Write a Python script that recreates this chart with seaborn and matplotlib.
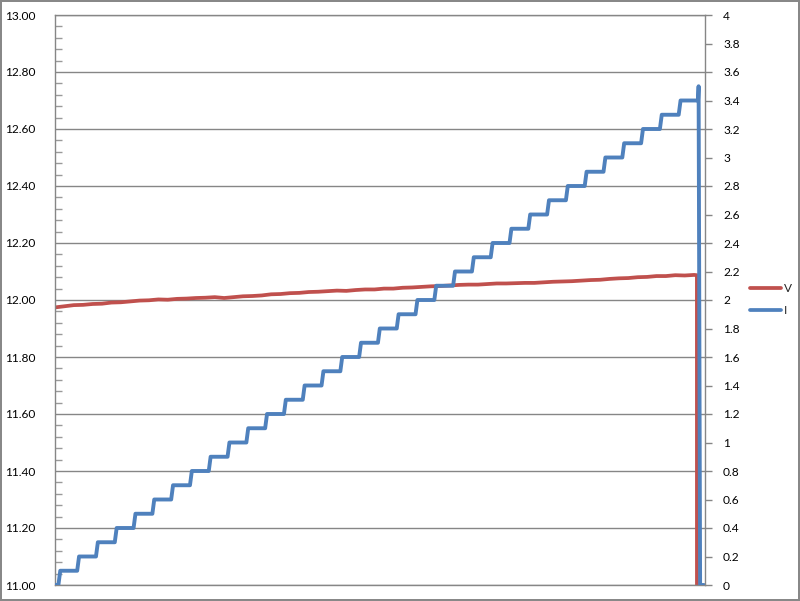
import numpy as np
import pandas as pd
import matplotlib
matplotlib.use("Agg")
import matplotlib.pyplot as plt
import seaborn as sns
from matplotlib.ticker import MultipleLocator, FuncFormatter
from matplotlib.lines import Line2D

# ---------------- data ----------------
v_time = [0, 5, 10, 15, 20, 25, 30, 35, 40, 45, 50, 55, 60, 65, 70, 75, 80, 85,
          90, 95, 100, 105, 110, 115, 120, 125, 130, 135, 140, 145, 150, 155,
          160, 165, 170, 175, 180, 185, 190, 195, 200, 205, 210, 215, 220, 225,
          230, 235, 240, 245, 250, 255, 260, 265, 270, 275, 280, 285, 290, 295,
          300, 305, 310, 315, 320, 325, 330, 335, 340, 341.5, 341.8]
v_values = [11.974, 11.978, 11.982, 11.983, 11.986, 11.987, 11.991, 11.992,
            11.995, 11.998, 11.999, 12.002, 12.001, 12.004, 12.005, 12.007,
            12.008, 12.010, 12.007, 12.010, 12.013, 12.014, 12.016, 12.020,
            12.021, 12.024, 12.025, 12.028, 12.029, 12.031, 12.033, 12.032,
            12.035, 12.037, 12.037, 12.040, 12.040, 12.043, 12.044, 12.046,
            12.048, 12.049, 12.051, 12.053, 12.054, 12.054, 12.056, 12.058,
            12.058, 12.059, 12.060, 12.060, 12.062, 12.064, 12.065, 12.066,
            12.068, 12.070, 12.071, 12.074, 12.076, 12.077, 12.080, 12.081,
            12.084, 12.084, 12.087, 12.086, 12.088, 12.087, 0.0]

i_levels = [0.0, 0.1, 0.2, 0.3, 0.4, 0.5, 0.6, 0.7, 0.8, 0.9, 1.0, 1.1, 1.2,
            1.3, 1.4, 1.5, 1.6, 1.7, 1.8, 1.9, 2.0, 2.1, 2.2, 2.3, 2.4, 2.5,
            2.6, 2.7, 2.8, 2.9, 3.0, 3.1, 3.2, 3.3, 3.4]
i_rise_time = [1.8, 11.8, 21.8, 31.8, 41.8, 51.8, 61.8, 71.8, 81.8, 91.8,
               101.8, 111.8, 121.8, 131.8, 141.8, 151.8, 161.8, 171.8, 181.8,
               191.8, 201.8, 211.8, 221.8, 231.8, 241.8, 251.8, 261.8, 271.8,
               281.8, 291.8, 301.8, 311.8, 321.8, 331.8]
i_rise_duration = 1.0
i_spike_time = 342.4
i_spike_value = 3.5
i_drop_time = 343.2
i_end_time = 345.3

left_ticks_min, left_ticks_max = 11.0, 13.0
right_min, right_max = 0.0, 4.0
x_max = 345.8

# ---------------- build series ----------------
it, iv = [0.0], [i_levels[0]]
for k, t in enumerate(i_rise_time):
    it += [t, t + i_rise_duration]
    iv += [i_levels[k], i_levels[k + 1]]
it += [i_spike_time - 0.3, i_spike_time, i_drop_time, i_end_time]
iv += [i_levels[-1], i_spike_value, 0.0, 0.0]

df_v = pd.DataFrame({"t": v_time, "V": v_values})
df_i = pd.DataFrame({"t": it, "I": iv})

# ---------------- figure ----------------
sns.set_style("white")
plt.rcParams["font.family"] = ["Lato", "DejaVu Sans"]
plt.rcParams["ytick.direction"] = "in"
plt.rcParams["ytick.minor.visible"] = True

W, H = 800, 601
fig = plt.figure(figsize=(W / 100, H / 100), dpi=100)
fig.patch.set_facecolor("white")
fig.patch.set_edgecolor("#888888")
fig.patch.set_linewidth(1.5)

ax = fig.add_axes([55 / W, 16 / H, 650 / W, 570 / H])
red = "#C0504D"
blue = "#4F81BD"
grid_c = "#868686"

sns.lineplot(data=df_v, x="t", y="V", ax=ax, sort=False, estimator=None,
             color=red, linewidth=2.7, legend=False)
ax.set_xlim(0, x_max)
ax.set_ylim(left_ticks_min, left_ticks_max)
ax.yaxis.set_major_locator(MultipleLocator(0.2))
ax.yaxis.set_minor_locator(MultipleLocator(0.04))
ax.yaxis.set_major_formatter(FuncFormatter(lambda v, p: f"{v:.2f}"))
ax.set_xticks([])
ax.set_xticks([], minor=True)
ax.set_xlabel("")
ax.set_ylabel("")
ax.grid(True, axis="y", which="major", color=grid_c, linewidth=1.0)
ax.set_axisbelow(True)
ax.tick_params(axis="y", which="major", direction="in", length=0, pad=14,
               labelsize=8.6, colors="black")
ax.tick_params(axis="y", which="minor", direction="in", length=5,
               width=1.0, color="#9a9a9a", left=True, right=False)
for s in ["left", "top", "bottom", "right"]:
    ax.spines[s].set_color(grid_c)
    ax.spines[s].set_linewidth(1.0)
ax.spines["right"].set_visible(False)

ax2 = ax.twinx()
sns.lineplot(data=df_i, x="t", y="I", ax=ax2, sort=False, estimator=None,
             color=blue, linewidth=2.8, legend=False)
ax2.set_xlim(0, x_max)
ax2.set_ylim(right_min, right_max)
ax2.yaxis.set_major_locator(MultipleLocator(0.2))
ax2.yaxis.set_minor_locator(MultipleLocator(10))
ax2.yaxis.set_major_formatter(FuncFormatter(lambda v, p: f"{round(v, 1):g}"))
ax2.set_ylabel("")
ax2.set_xticks([])
ax2.set_xticks([], minor=True)
ax2.tick_params(axis="y", which="major", direction="out", length=5, width=1.0,
                color=grid_c, pad=8, labelsize=8.6, labelcolor="black")
ax2.tick_params(axis="y", which="minor", length=0)
for s in ["left", "top", "bottom"]:
    ax2.spines[s].set_visible(False)
ax2.spines["right"].set_color(grid_c)
ax2.spines["right"].set_linewidth(1.0)

handles = [Line2D([], [], color=red, linewidth=2.7),
           Line2D([], [], color=blue, linewidth=2.7)]
fig.legend(handles, ["V", "I"], loc="center left",
           bbox_to_anchor=(742 / W, 1 - 299.5 / H), frameon=False,
           fontsize=8.6, handlelength=2.6, handletextpad=0.2,
           labelspacing=0.9, borderpad=0.2)

fig.savefig("out.png", dpi=100, facecolor=fig.get_facecolor(),
            edgecolor=fig.get_edgecolor())
